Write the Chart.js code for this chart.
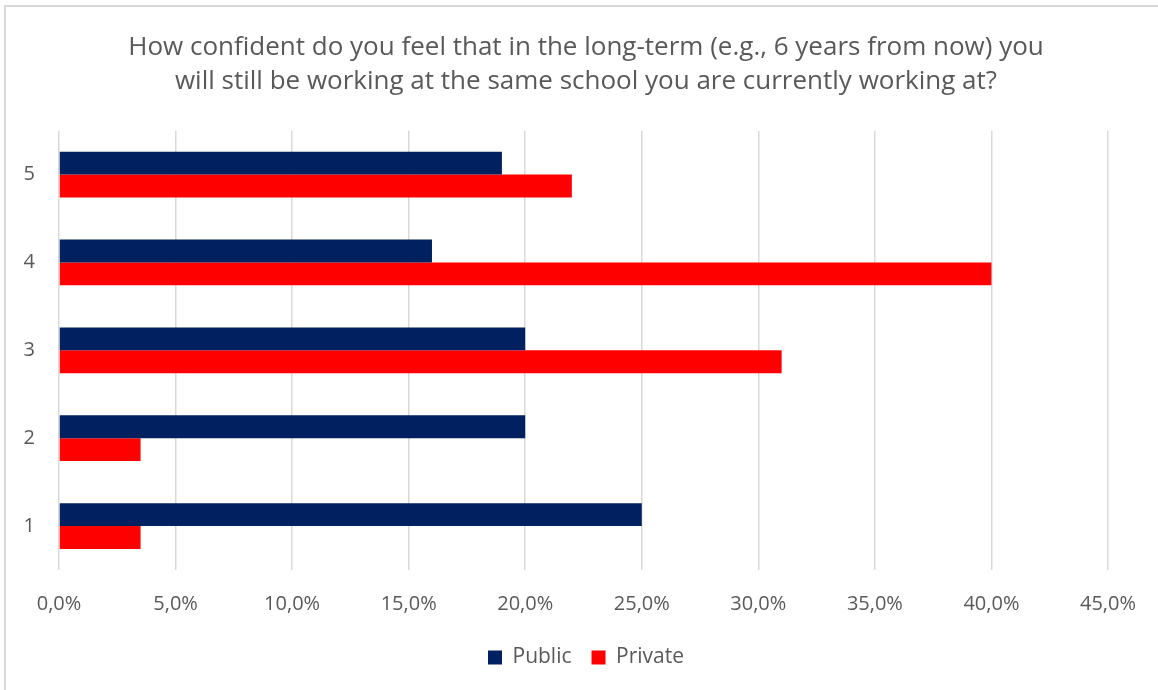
<!DOCTYPE html>
<html>
<head>
<meta charset="utf-8">
<script src="https://cdn.jsdelivr.net/npm/chart.js@4"></script>
<style>
  html, body { margin: 0; padding: 0; background: #fff; overflow: hidden; }
  #frame {
    position: absolute; left: 4px; top: 5px;
    width: 1200px; height: 720px;
    border-top: 2px solid #d9d9d9; border-left: 2px solid #d9d9d9;
  }
  #wrap { position: absolute; left: 0; top: 0; width: 1158px; height: 690px; }
</style>
</head>
<body>
<div id="frame"></div>
<div id="wrap"><canvas id="chart" width="1158" height="690"></canvas></div>
<script>
// survey answers, 5 = very confident ... 1 = not confident
const categories = ['5', '4', '3', '2', '1'];
const publicShare = [19, 16, 20, 20, 25];
const privateShare = [22, 40, 31, 3.5, 3.5];
const titleLines = [
  'How confident do you feel that in the long-term (e.g., 6 years from now) you',
  'will still be working at the same school you are currently working at?'
];

const textcolor = '#595959';
const gridcolor = '#d9d9d9';
const fontfamily = '"Open Sans", sans-serif';

Chart.defaults.font.family = fontfamily;
Chart.defaults.color = textcolor;

const pct = v => v.toFixed(1).replace('.', ',') + '%';

new Chart(document.getElementById('chart'), {
  type: 'bar',
  data: {
    labels: categories,
    datasets: [
      {
        label: 'Public',
        data: publicShare,
        backgroundColor: '#002060',
        borderWidth: 0,
        categoryPercentage: 0.52,
        barPercentage: 1.0,
      },
      {
        label: 'Private',
        data: privateShare,
        backgroundColor: '#ff0000',
        borderWidth: 0,
        categoryPercentage: 0.52,
        barPercentage: 1.0,
      },
    ],
  },
  options: {
    indexAxis: 'y',
    responsive: false,
    animation: false,
    layout: {
      padding: { top: 30, right: 0, bottom: 12, left: 14 },
    },
    scales: {
      x: {
        min: 0,
        max: 45,
        ticks: {
          stepSize: 5,
          callback: v => pct(v),
          font: { size: 20 },
          color: textcolor,
          padding: 22,
        },
        grid: {
          color: gridcolor,
          lineWidth: 1.5,
          drawTicks: false,
        },
        border: { display: false },
        // keep the plot clear of the right edge, title and legend still centre on the full width
        afterFit: (scale) => {
          scale.paddingRight = 50;
          scale.height = 57;
        },
      },
      y: {
        ticks: {
          font: { size: 20 },
          color: textcolor,
          padding: 24,
        },
        grid: { display: false, drawTicks: false },
        border: { display: false },
        afterFit: (scale) => {
          scale.width = 45;
        },
      },
    },
    plugins: {
      title: {
        display: true,
        text: titleLines,
        font: { size: 26, weight: 'normal', lineHeight: 1.32 },
        color: textcolor,
        padding: { top: 0, bottom: 32 },
      },
      legend: {
        position: 'bottom',
        labels: {
          font: { size: 21 },
          color: textcolor,
          boxWidth: 14,
          boxHeight: 14,
          padding: 20,
        },
      },
      tooltip: { enabled: false },
    },
  },
});
</script>
</body>
</html>
